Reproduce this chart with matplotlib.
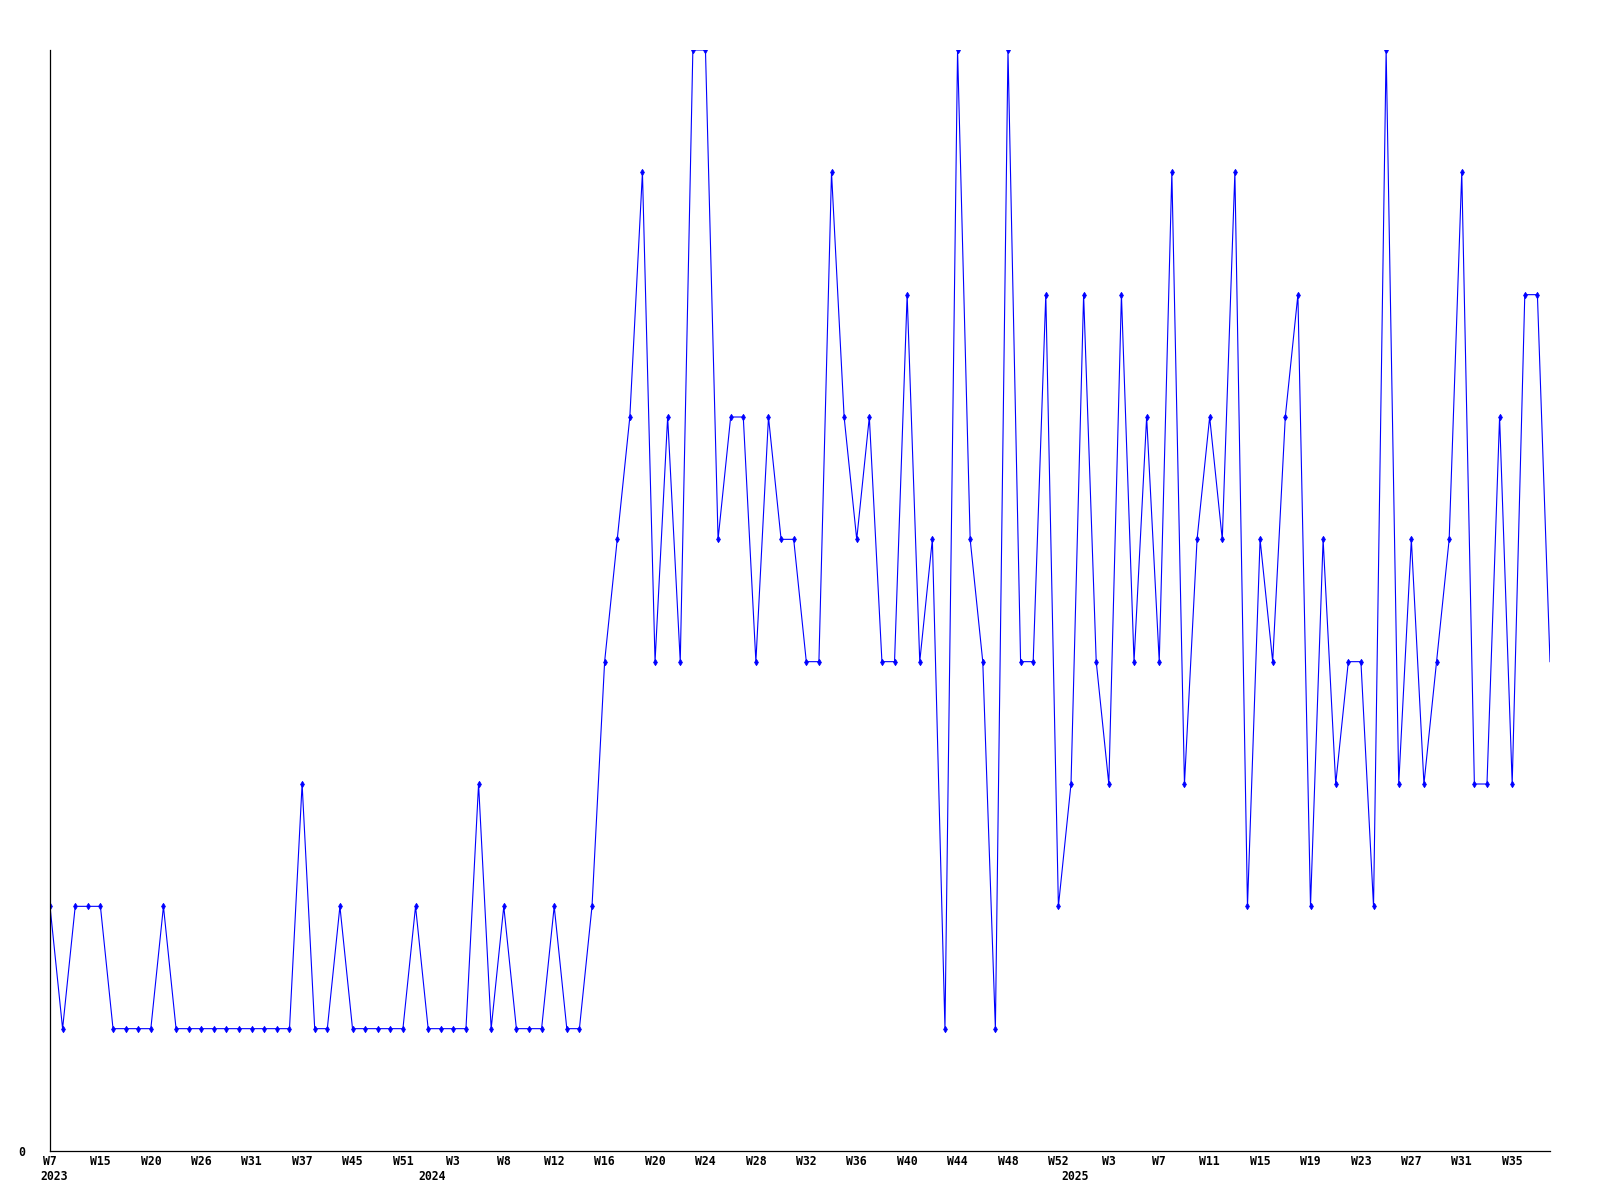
import matplotlib
matplotlib.use("Agg")
import matplotlib.pyplot as plt

# --- data: one value per period ---
values = [
    2, 1, 2, 2, 2, 1, 1, 1, 1, 2,
    1, 1, 1, 1, 1, 1, 1, 1, 1, 1,
    3, 1, 1, 2, 1, 1, 1, 1, 1, 2,
    1, 1, 1, 1, 3, 1, 2, 1, 1, 1,
    2, 1, 1, 2, 4, 5, 6, 8, 4, 6,
    4, 9, 9, 5, 6, 6, 4, 6, 5, 5,
    4, 4, 8, 6, 5, 6, 4, 4, 7, 4,
    5, 1, 9, 5, 4, 1, 9, 4, 4, 7,
    2, 3, 7, 4, 3, 7, 4, 6, 4, 8,
    3, 5, 6, 5, 8, 2, 5, 4, 6, 7,
    2, 5, 3, 4, 4, 2, 9, 3, 5, 3,
    4, 5, 8, 3, 3, 6, 3, 7, 7, 4,
]

# tick every 4th point
tick_labels = [
    "W7", "W15", "W20", "W26", "W31", "W37", "W45", "W51",
    "W3", "W8", "W12", "W16", "W20", "W24", "W28", "W32",
    "W36", "W40", "W44", "W48", "W52",
    "W3", "W7", "W11", "W15", "W19", "W23", "W27", "W31", "W35",
]
years = ["2023", "2024", "2025"]
year_pos = [0.3, 30.3, 81.3]

x = list(range(len(values)))

fig = plt.figure(figsize=(16, 12), dpi=100)
ax = fig.add_axes([50 / 1600, 49 / 1200, 1500 / 1600, 1101 / 1200])

ax.plot(x, values, color="#0000ff", linewidth=0.8)
# last point is drawn without a marker
ax.plot(x[:-1], values[:-1], linestyle="none", marker="d",
        markersize=3.2, color="#0000ff", markeredgewidth=0.6)

ax.set_xlim(0, len(values) - 1)
ax.set_ylim(0, 9)

for side in ["top", "right"]:
    ax.spines[side].set_visible(False)
for side in ["left", "bottom"]:
    ax.spines[side].set_linewidth(0.9)
    ax.spines[side].set_color("black")

font = dict(family="DejaVu Sans Mono", weight="bold", size=8.3)

ax.set_xticks(x[::4][:len(tick_labels)])
ax.set_xticklabels(tick_labels, **font)
ax.tick_params(axis="x", length=0, pad=3)
ax.set_yticks([0])
ax.set_yticklabels(["0"], **font)
ax.tick_params(axis="y", length=0, pad=18)

# year under the first tick of each year
for label, pos in zip(years, year_pos):
    ax.annotate(label, xy=(pos, 0), xycoords=("data", "axes fraction"),
                xytext=(0, -18.5), textcoords="offset points",
                ha="center", va="center", **font)

fig.savefig("out.png", dpi=100, facecolor="white")
